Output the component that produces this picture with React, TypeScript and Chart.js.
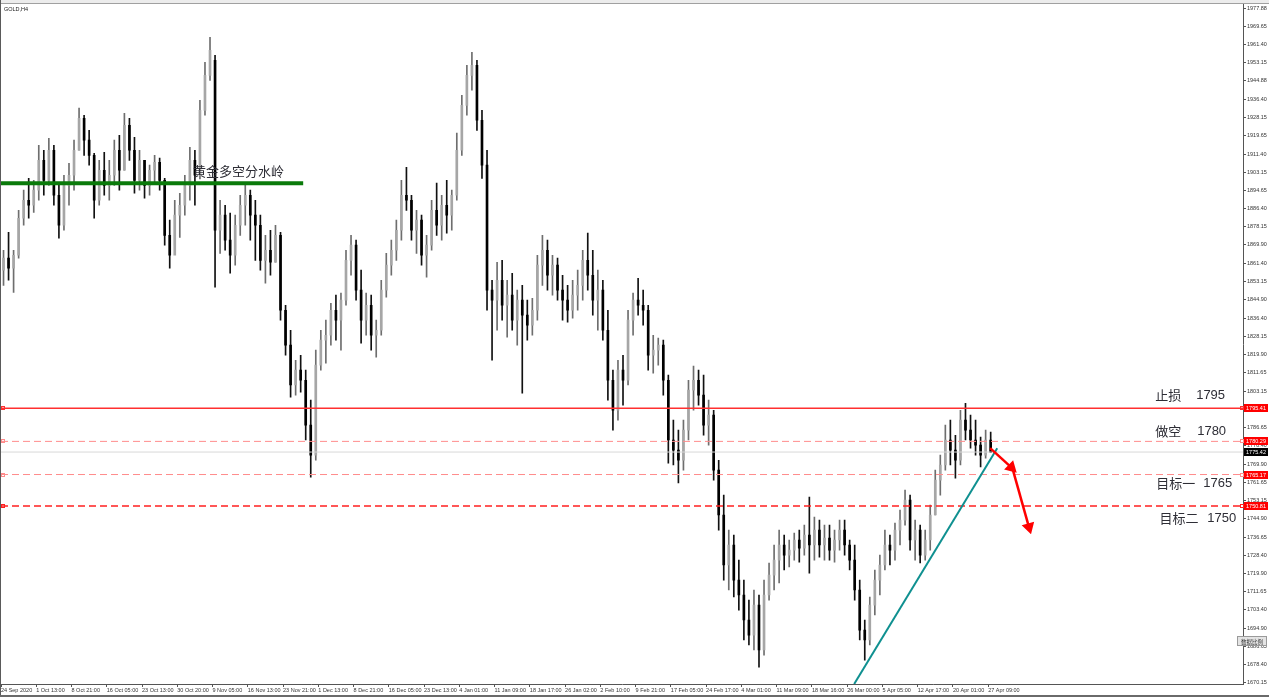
import React, { useEffect, useRef } from 'react';
import { Chart, registerables } from 'chart.js';
Chart.register(...registerables);

// ---- data (GOLD H4, one entry per candle slot) ----
const highs = [
  1867.5, 1875.7, 1867.5, 1885.7, 1894.9, 1900.3, 1899.4, 1915.4, 1913.1, 1918.6,
  1915.4, 1898.1, 1901.7, 1907.2, 1917.7, 1932.3, 1929.1, 1922.2, 1911.7, 1908.5,
  1912.2, 1908.5, 1917.7, 1919.9, 1930.0, 1927.7, 1919.0, 1913.1, 1908.5, 1906.3,
  1910.8, 1909.5, 1900.3, 1881.2, 1890.3, 1893.5, 1901.7, 1914.5, 1913.1, 1935.9,
  1953.2, 1964.6, 1956.4, 1890.3, 1888.0, 1884.4, 1883.5, 1892.6, 1898.1, 1894.9,
  1890.3, 1883.5, 1874.3, 1876.6, 1878.9, 1875.7, 1842.4, 1831.0, 1817.3, 1819.6,
  1812.8, 1799.1, 1821.9, 1831.0, 1835.6, 1843.3, 1847.0, 1847.9, 1867.5, 1874.3,
  1872.1, 1858.4, 1847.9, 1847.0, 1835.6, 1853.8, 1866.1, 1872.1, 1881.2, 1899.4,
  1905.3, 1892.6, 1885.7, 1883.5, 1874.3, 1890.3, 1898.1, 1892.6, 1899.4, 1894.9,
  1920.9, 1938.2, 1951.9, 1957.8, 1954.1, 1931.3, 1913.1, 1853.8, 1862.0, 1862.9,
  1853.8, 1857.0, 1849.3, 1851.5, 1844.7, 1845.6, 1865.2, 1874.3, 1872.1, 1865.2,
  1863.9, 1856.1, 1851.5, 1853.8, 1858.4, 1867.5, 1875.3, 1867.5, 1858.4, 1853.8,
  1840.1, 1812.8, 1817.3, 1819.6, 1840.1, 1847.9, 1854.7, 1849.3, 1842.4, 1828.7,
  1827.4, 1826.5, 1810.5, 1790.0, 1785.4, 1790.0, 1808.2, 1814.6, 1812.8, 1810.5,
  1799.1, 1794.5, 1771.7, 1755.8, 1739.8, 1737.5, 1726.1, 1717.0, 1707.9, 1712.5,
  1710.2, 1717.0, 1724.8, 1733.0, 1739.8, 1737.5, 1735.3, 1738.5, 1739.8, 1742.1,
  1754.9, 1745.7, 1744.4, 1742.1, 1742.1, 1739.8, 1744.4, 1744.4, 1735.3, 1733.0,
  1717.0, 1698.8, 1709.3, 1721.6, 1728.4, 1739.8, 1737.5, 1743.0, 1748.9, 1758.1,
  1755.8, 1744.4, 1742.1, 1739.8, 1751.2, 1767.2, 1774.0, 1787.7, 1790.0, 1783.1,
  1794.5, 1797.7, 1792.3, 1790.0, 1782.2, 1785.4, 1784.5,
];
const lows = [
  1851.5, 1853.8, 1848.3, 1863.9, 1878.9, 1882.1, 1884.8, 1890.3, 1892.6, 1897.1,
  1888.0, 1873.0, 1876.6, 1888.0, 1894.9, 1913.1, 1910.8, 1906.3, 1882.1, 1888.0,
  1892.6, 1890.3, 1897.1, 1894.9, 1904.0, 1908.5, 1893.5, 1894.9, 1891.2, 1892.6,
  1898.1, 1894.9, 1869.8, 1859.3, 1869.8, 1873.4, 1883.5, 1890.3, 1888.0, 1900.0,
  1929.1, 1945.0, 1850.6, 1866.1, 1867.5, 1857.0, 1860.7, 1874.3, 1878.9, 1872.1,
  1862.9, 1858.4, 1852.5, 1856.1, 1862.0, 1835.6, 1819.6, 1800.5, 1801.4, 1802.7,
  1780.9, 1764.0, 1771.7, 1812.8, 1816.0, 1824.2, 1826.5, 1821.9, 1842.4, 1856.1,
  1844.7, 1825.1, 1828.7, 1821.9, 1818.7, 1828.7, 1846.1, 1856.1, 1862.9, 1872.1,
  1885.7, 1872.1, 1866.1, 1860.7, 1855.2, 1867.5, 1874.3, 1872.1, 1875.3, 1876.6,
  1890.3, 1910.8, 1929.1, 1940.5, 1922.2, 1900.3, 1840.1, 1817.3, 1831.0, 1835.6,
  1827.8, 1831.0, 1824.2, 1802.3, 1826.5, 1828.7, 1835.6, 1851.5, 1849.3, 1847.0,
  1844.7, 1835.6, 1834.7, 1836.5, 1840.1, 1844.7, 1849.3, 1837.9, 1831.0, 1826.5,
  1799.1, 1785.4, 1790.0, 1796.8, 1806.0, 1828.7, 1837.9, 1833.3, 1812.8, 1811.4,
  1815.1, 1801.4, 1770.4, 1769.5, 1761.3, 1767.2, 1780.9, 1794.5, 1796.8, 1783.1,
  1778.6, 1762.6, 1739.8, 1717.0, 1712.5, 1709.3, 1703.3, 1689.7, 1687.4, 1685.1,
  1677.3, 1682.8, 1707.9, 1712.5, 1715.7, 1721.6, 1723.0, 1726.1, 1725.2, 1728.4,
  1720.2, 1726.1, 1727.5, 1726.1, 1726.1, 1725.2, 1730.7, 1728.4, 1721.6, 1707.9,
  1689.7, 1680.5, 1687.4, 1701.1, 1710.2, 1721.6, 1723.9, 1726.1, 1733.0, 1742.1,
  1730.7, 1726.1, 1724.8, 1726.1, 1730.7, 1746.7, 1755.8, 1767.2, 1769.5, 1763.5,
  1769.5, 1780.9, 1777.2, 1774.0, 1768.6, 1772.6, 1775.4,
];
const opens = [
  1858.4, 1863.9, 1859.3, 1865.2, 1882.1, 1890.3, 1888.0, 1894.9, 1908.5, 1899.4,
  1913.1, 1892.6, 1878.9, 1897.1, 1901.7, 1913.1, 1927.7, 1917.7, 1910.8, 1890.3,
  1904.0, 1897.1, 1901.7, 1913.1, 1904.0, 1924.5, 1913.1, 1899.4, 1908.5, 1897.1,
  1904.0, 1907.6, 1899.4, 1874.3, 1865.2, 1883.5, 1888.0, 1897.1, 1908.5, 1901.7,
  1931.3, 1947.3, 1954.1, 1876.6, 1883.5, 1872.1, 1865.2, 1878.9, 1888.0, 1892.6,
  1883.5, 1878.9, 1862.9, 1867.5, 1862.0, 1874.3, 1840.1, 1824.2, 1806.0, 1812.8,
  1808.2, 1787.7, 1774.0, 1815.1, 1826.5, 1828.7, 1840.1, 1835.6, 1844.7, 1862.9,
  1869.8, 1849.3, 1835.6, 1842.4, 1828.7, 1831.0, 1849.3, 1860.7, 1867.5, 1876.6,
  1892.6, 1890.3, 1876.6, 1881.2, 1865.2, 1869.8, 1885.7, 1878.9, 1888.0, 1883.5,
  1892.6, 1913.1, 1933.6, 1947.3, 1951.9, 1926.8, 1906.3, 1849.3, 1844.7, 1853.8,
  1842.4, 1847.0, 1835.6, 1844.7, 1837.9, 1833.3, 1840.1, 1860.7, 1867.5, 1856.1,
  1860.7, 1849.3, 1844.7, 1840.1, 1847.0, 1851.5, 1862.9, 1856.1, 1844.7, 1849.3,
  1831.0, 1808.2, 1794.5, 1812.8, 1808.2, 1835.6, 1844.7, 1842.4, 1840.1, 1819.6,
  1821.9, 1824.2, 1808.2, 1780.9, 1776.3, 1771.7, 1785.4, 1803.7, 1808.2, 1801.4,
  1787.7, 1792.3, 1767.2, 1746.7, 1723.9, 1733.0, 1717.0, 1710.2, 1698.8, 1691.9,
  1705.6, 1685.1, 1710.2, 1719.3, 1726.1, 1733.0, 1728.4, 1730.7, 1735.3, 1731.6,
  1737.5, 1733.0, 1739.8, 1733.0, 1736.2, 1730.7, 1735.3, 1739.8, 1733.0, 1726.1,
  1712.5, 1694.2, 1689.7, 1705.6, 1717.0, 1723.9, 1733.0, 1730.7, 1739.8, 1744.4,
  1753.5, 1735.3, 1739.8, 1728.4, 1735.3, 1746.7, 1762.6, 1769.5, 1780.9, 1776.3,
  1771.7, 1790.0, 1785.4, 1780.9, 1778.6, 1774.0, 1780.9,
];
const closes = [
  1863.9, 1859.3, 1865.2, 1882.1, 1890.3, 1888.0, 1894.9, 1908.5, 1899.4, 1913.1,
  1892.6, 1878.9, 1897.1, 1901.7, 1913.1, 1927.7, 1917.7, 1910.8, 1890.3, 1904.0,
  1897.1, 1901.7, 1913.1, 1904.0, 1924.5, 1913.1, 1899.4, 1908.5, 1897.1, 1904.0,
  1907.6, 1899.4, 1874.3, 1865.2, 1883.5, 1888.0, 1897.1, 1908.5, 1901.7, 1931.3,
  1947.3, 1958.7, 1876.6, 1883.5, 1872.1, 1865.2, 1878.9, 1888.0, 1892.6, 1883.5,
  1878.9, 1862.9, 1867.5, 1862.0, 1874.3, 1840.1, 1824.2, 1806.0, 1812.8, 1808.2,
  1787.7, 1774.0, 1815.1, 1826.5, 1828.7, 1840.1, 1835.6, 1844.7, 1862.9, 1869.8,
  1849.3, 1835.6, 1842.4, 1828.7, 1831.0, 1849.3, 1860.7, 1867.5, 1876.6, 1892.6,
  1890.3, 1876.6, 1881.2, 1865.2, 1869.8, 1885.7, 1878.9, 1888.0, 1883.5, 1892.6,
  1913.1, 1933.6, 1947.3, 1951.9, 1926.8, 1906.3, 1849.3, 1844.7, 1853.8, 1842.4,
  1847.0, 1835.6, 1844.7, 1837.9, 1833.3, 1840.1, 1860.7, 1867.5, 1856.1, 1860.7,
  1849.3, 1844.7, 1840.1, 1847.0, 1851.5, 1862.9, 1856.1, 1844.7, 1849.3, 1831.0,
  1808.2, 1794.5, 1812.8, 1808.2, 1835.6, 1844.7, 1842.4, 1840.1, 1819.6, 1821.9,
  1824.2, 1808.2, 1780.9, 1776.3, 1771.7, 1785.4, 1803.7, 1808.2, 1801.4, 1787.7,
  1792.3, 1767.2, 1746.7, 1723.9, 1733.0, 1717.0, 1710.2, 1698.8, 1691.9, 1705.6,
  1685.1, 1710.2, 1719.3, 1726.1, 1733.0, 1728.4, 1730.7, 1735.3, 1731.6, 1737.5,
  1733.0, 1739.8, 1733.0, 1736.2, 1730.7, 1735.3, 1739.8, 1733.0, 1726.1, 1712.5,
  1694.2, 1689.7, 1705.6, 1717.0, 1723.9, 1733.0, 1730.7, 1739.8, 1744.4, 1753.5,
  1735.3, 1739.8, 1728.4, 1735.3, 1746.7, 1762.6, 1769.5, 1780.9, 1776.3, 1771.7,
  1790.0, 1785.4, 1780.9, 1778.6, 1774.0, 1780.9, 1775.4,
];

const xTickLabels = [
  '24 Sep 2020', '1 Oct 13:00', '8 Oct 21:00', '16 Oct 05:00', '23 Oct 13:00', '30 Oct 20:00',
  '9 Nov 05:00', '16 Nov 13:00', '23 Nov 21:00', '1 Dec 13:00', '8 Dec 21:00', '16 Dec 05:00',
  '23 Dec 13:00', '4 Jan 01:00', '11 Jan 09:00', '18 Jan 17:00', '26 Jan 02:00', '2 Feb 10:00',
  '9 Feb 21:00', '17 Feb 05:00', '24 Feb 17:00', '4 Mar 01:00', '11 Mar 09:00', '18 Mar 16:00',
  '26 Mar 00:00', '5 Apr 05:00', '12 Apr 17:00', '20 Apr 01:00', '27 Apr 09:00',
];
const slotsPerLabel = 7;

const yTickValues = [
  1977.88, 1969.65, 1961.40, 1953.15, 1944.88, 1936.40, 1928.15, 1919.65, 1911.40, 1903.15,
  1894.65, 1886.40, 1878.15, 1869.90, 1861.40, 1853.15, 1844.90, 1836.40, 1828.15, 1819.90,
  1811.65, 1803.15, 1794.90, 1786.65, 1778.40, 1769.90, 1761.65, 1753.15, 1744.90, 1736.65,
  1728.40, 1719.90, 1711.65, 1703.40, 1694.90, 1686.65, 1678.40, 1670.15,
];

// trading levels
const stopLoss = 1795.41;
const shortEntry = 1780.29;
const target1 = 1765.17;
const target2 = 1750.81;
const bidPrice = 1775.42;
const watershed = 1898.1; // 黄金多空分水岭
const watershedEndSlot = 60.0;

// trend line and projected arrows (slot, price)
const trendStart = { x: 169.4, y: 1669.6 };
const trendEnd = { x: 197.8, y: 1777.2 };
const arrow1 = [{ x: 196.4, y: 1777.2 }, { x: 200.6, y: 1768.4 }];
const arrow2 = [{ x: 200.9, y: 1767.4 }, { x: 204.1, y: 1741.2 }];

const Y_MIN = 1669.6;
const Y_MAX = 1979.7;
const X_MAX = 246.6;

const notes = [
  { text: '黄金多空分水岭', x: 38.1, y: 1903.6, cjk: true },
  { text: '止损', x: 229.2, y: 1801.4, cjk: true },
  { text: '1795', x: 237.3, y: 1801.4, cjk: false },
  { text: '做空', x: 229.2, y: 1785.0, cjk: true },
  { text: '1780', x: 237.5, y: 1785.0, cjk: false },
  { text: '目标一', x: 229.4, y: 1761.3, cjk: true },
  { text: '1765', x: 238.7, y: 1761.3, cjk: false },
  { text: '目标二', x: 230.0, y: 1745.3, cjk: true },
  { text: '1750', x: 239.5, y: 1745.3, cjk: false },
];

const SMALL_FONT = '5.5px "Liberation Sans", Arial, sans-serif';

const decorPlugin = {
  id: 'decor',
  beforeDraw(chart: any) {
    const { ctx } = chart;
    ctx.save();
    ctx.fillStyle = '#ffffff';
    ctx.fillRect(0, 0, chart.width, chart.height);
    ctx.restore();
  },
  afterDraw(chart: any) {
    const { ctx, chartArea: a, scales } = chart;
    const xs = scales.x;
    const ys = scales.y;
    ctx.save();
    // window frame
    ctx.fillStyle = '#ececec';
    ctx.fillRect(0, 0, chart.width, 3);
    ctx.fillStyle = '#a0a0a0';
    ctx.fillRect(0, 3, chart.width, 1);
    ctx.fillStyle = '#5a5a5a';
    ctx.fillRect(0, 0, 1, chart.height);
    ctx.fillStyle = '#6a6a6a';
    ctx.fillRect(0, chart.height - 2, chart.width, 2);

    // title
    ctx.fillStyle = '#222';
    ctx.font = SMALL_FONT;
    ctx.textBaseline = 'middle';
    ctx.textAlign = 'left';
    ctx.fillText('GOLD,H4', 4, 9);

    // level end markers
    const marks = [
      { v: stopLoss, c: '#ff3030' },
      { v: shortEntry, c: '#ff8c8c' },
      { v: target1, c: '#ff8c8c' },
      { v: target2, c: '#ff2020' },
    ];
    ctx.lineWidth = 1;
    marks.forEach((m) => {
      const py = Math.round(ys.getPixelForValue(m.v));
      ctx.strokeStyle = m.c;
      ctx.strokeRect(1.5, py - 1.5, 3, 3);
      ctx.strokeRect(a.right - 2.5, py - 1.5, 3, 3);
    });

    // price boxes on the axis
    const boxes = [
      { v: stopLoss, bg: '#ff0000' },
      { v: shortEntry, bg: '#ff0000' },
      { v: bidPrice, bg: '#000000' },
      { v: target1, bg: '#ff0000' },
      { v: target2, bg: '#ff0000' },
    ];
    boxes.forEach((b) => {
      const py = Math.round(ys.getPixelForValue(b.v));
      ctx.fillStyle = b.bg;
      ctx.fillRect(a.right + 1, py - 4, 24, 8);
      ctx.fillStyle = '#ffffff';
      ctx.font = SMALL_FONT;
      ctx.textAlign = 'center';
      ctx.textBaseline = 'middle';
      ctx.fillText(b.v.toFixed(2), a.right + 13, py + 0.5);
    });

    // annotation text
    notes.forEach((n) => {
      ctx.font = n.cjk ? '13px "Noto Sans CJK SC", sans-serif' : '13px "Liberation Sans", Arial, sans-serif';
      ctx.fillStyle = '#2e2e36';
      ctx.textAlign = 'left';
      ctx.textBaseline = 'middle';
      ctx.fillText(n.text, xs.getPixelForValue(n.x), ys.getPixelForValue(n.y));
    });

    // scale button
    ctx.fillStyle = '#e4e4e4';
    ctx.fillRect(1237, 636, 30, 10);
    ctx.strokeStyle = '#9a9a9a';
    ctx.strokeRect(1237.5, 636.5, 29, 9);
    ctx.fillStyle = '#333';
    ctx.font = '5.5px "Noto Sans CJK SC", sans-serif';
    ctx.textAlign = 'center';
    ctx.textBaseline = 'middle';
    ctx.fillText('数据比例', 1252, 641.5);
    ctx.restore();
  },
};

export default function App() {
  const ref = useRef<HTMLCanvasElement | null>(null);

  useEffect(() => {
    if (!ref.current) return;
    const slot = highs.map((_, i) => i + 0.5);
    const bull = closes.map((c, i) => c > opens[i]);
    const wickColors = bull.map((b) => (b ? '#6e6e6e' : '#111111'));
    const bodyColors = bull.map((b) => (b ? '#a6a6a6' : '#000000'));

    const hLine = (v: number, color: string, width: number, dash: number[], order: number, x0 = 0, x1 = X_MAX) => ({
      type: 'line' as const,
      data: [{ x: x0, y: v }, { x: x1, y: v }],
      borderColor: color,
      borderWidth: width,
      borderDash: dash,
      pointRadius: 0,
      order,
    });

    const chart = new Chart(ref.current, {
      type: 'bar',
      data: {
        datasets: [
          {
            type: 'line',
            data: arrow1,
            borderColor: '#ff0000',
            borderWidth: 2.5,
            pointStyle: 'triangle',
            pointRadius: [0, 5],
            pointRotation: [0, 134],
            pointBackgroundColor: '#ff0000',
            pointBorderColor: '#ff0000',
            order: 0,
          } as any,
          {
            type: 'line',
            data: arrow2,
            borderColor: '#ff0000',
            borderWidth: 2.5,
            pointStyle: 'triangle',
            pointRadius: [0, 5],
            pointRotation: [0, 164],
            pointBackgroundColor: '#ff0000',
            pointBorderColor: '#ff0000',
            order: 0,
          } as any,
          {
            type: 'line',
            data: [trendStart, trendEnd],
            borderColor: '#0f9090',
            borderWidth: 2,
            pointRadius: 0,
            order: 1,
          } as any,
          hLine(stopLoss, '#ff3030', 1.5, [], 2) as any,
          hLine(shortEntry, '#ff8c8c', 1, [7, 4], 2) as any,
          hLine(bidPrice, '#d8d8d8', 1, [], 3) as any,
          hLine(target1, '#ff8c8c', 1, [7, 4], 2) as any,
          hLine(target2, '#ff2020', 1.5, [7, 4], 2) as any,
          hLine(watershed, '#0a7a0a', 4, [], 2, 0, watershedEndSlot) as any,
          {
            type: 'bar',
            data: slot.map((x, i) => ({ x, y: [opens[i], closes[i]] })),
            backgroundColor: bodyColors,
            borderWidth: 0,
            barThickness: 2,
            minBarLength: 1,
            grouped: false,
            order: 8,
          } as any,
          {
            type: 'bar',
            data: slot.map((x, i) => ({ x, y: [lows[i], highs[i]] })),
            backgroundColor: wickColors,
            borderWidth: 0,
            barThickness: 1,
            grouped: false,
            order: 9,
          } as any,
        ],
      },
      options: {
        responsive: false,
        animation: false,
        devicePixelRatio: 1,
        events: [],
        layout: { autoPadding: false, padding: { left: 1, top: 4, right: 0, bottom: 0 } },
        plugins: {
          legend: { display: false },
          tooltip: { enabled: false },
          title: { display: false },
        },
        scales: {
          x: {
            type: 'linear',
            min: 0,
            max: X_MAX,
            offset: false,
            grid: { display: true, drawOnChartArea: false, drawTicks: true, tickLength: 3, color: '#555', offset: false },
            border: { display: true, color: '#555', width: 1 },
            ticks: {
              autoSkip: false,
              maxRotation: 0,
              minRotation: 0,
              align: 'start',
              padding: 0,
              color: '#333',
              font: { size: 5.5, family: '"Liberation Sans", Arial, sans-serif' },
              callback: (_v: any, i: number) => xTickLabels[i] ?? '',
            },
            afterBuildTicks: (s: any) => {
              s.ticks = xTickLabels.map((_, k) => ({ value: k * slotsPerLabel }));
            },
            afterFit: (s: any) => {
              s.height = 13;
            },
          } as any,
          y: {
            type: 'linear',
            position: 'right',
            min: Y_MIN,
            max: Y_MAX,
            grid: { display: true, drawOnChartArea: false, drawTicks: true, tickLength: 3, color: '#555' },
            border: { display: true, color: '#555', width: 1 },
            ticks: {
              autoSkip: false,
              padding: 1,
              color: '#333',
              font: { size: 5.5, family: '"Liberation Sans", Arial, sans-serif' },
              callback: (v: any) => Number(v).toFixed(2),
            },
            afterBuildTicks: (s: any) => {
              s.ticks = yTickValues.map((v) => ({ value: v }));
            },
            afterFit: (s: any) => {
              s.width = 26;
            },
          } as any,
        },
      } as any,
      plugins: [decorPlugin],
    });
    return () => chart.destroy();
  }, []);

  return (
    <div style={{ position: 'fixed', left: 0, top: 0, width: 1269, height: 697, background: '#fff' }}>
      <canvas ref={ref} width={1269} height={697} style={{ display: 'block' }} />
    </div>
  );
}
